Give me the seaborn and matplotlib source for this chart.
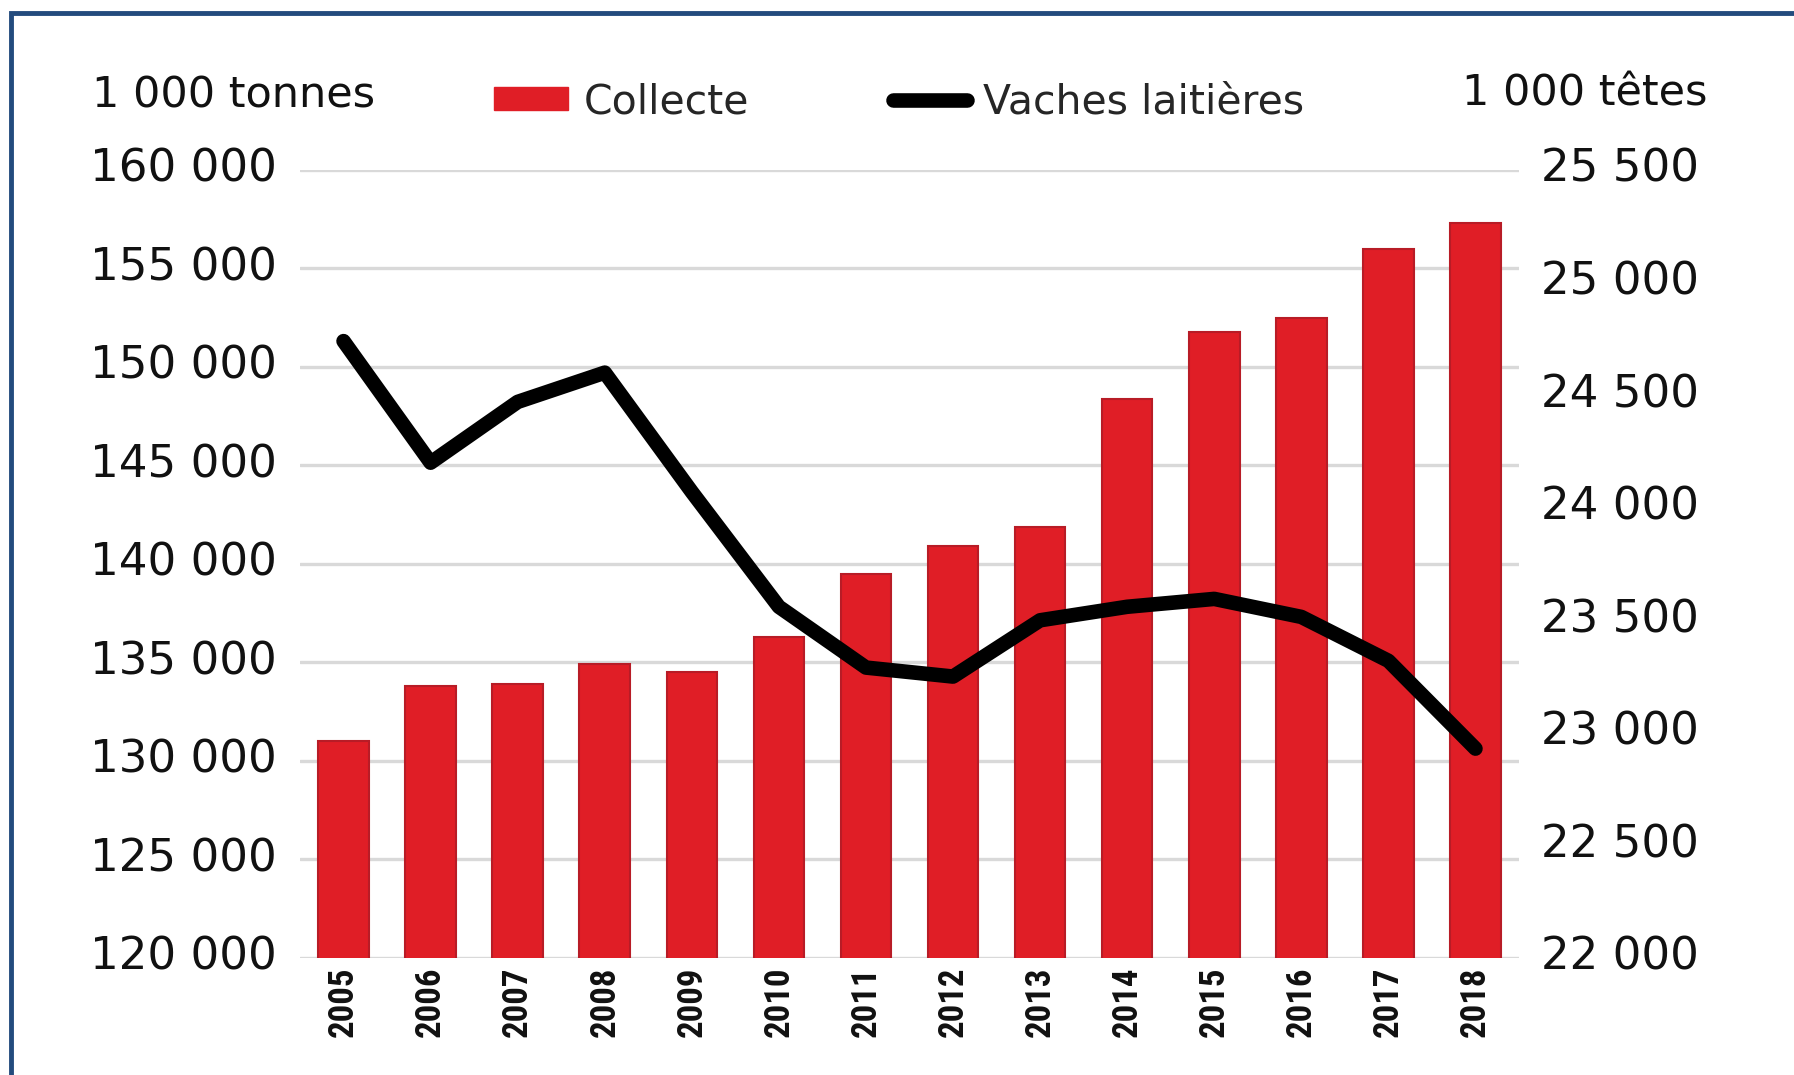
import numpy as np
import pandas as pd
import matplotlib
matplotlib.use("Agg")
import matplotlib.pyplot as plt
import matplotlib.transforms as mtrans
import seaborn as sns
from matplotlib.patches import Patch, Rectangle
from matplotlib.lines import Line2D
from matplotlib import font_manager

years = ["2005", "2006", "2007", "2008", "2009", "2010", "2011",
         "2012", "2013", "2014", "2015", "2016", "2017", "2018"]
collecte = [131000, 133800, 133900, 134900, 134500, 136300, 139500,
            140900, 141900, 148400, 151800, 152500, 156000, 157300]
vaches = [24740, 24200, 24470, 24600, 24070, 23560, 23290,
          23250, 23500, 23560, 23595, 23515, 23320, 22930]
left_ticks = [120000, 125000, 130000, 135000, 140000, 145000, 150000, 155000, 160000]
right_ticks = [22000, 22500, 23000, 23500, 24000, 24500, 25000, 25500]

df = pd.DataFrame({"year": years, "collecte": collecte, "vaches": vaches})

sns.set_theme(style="white")
plt.rcParams["font.family"] = ["DejaVu Sans"]

installed = {f.name for f in font_manager.fontManager.ttflist}
narrow = None
for cand in ["Roboto Condensed", "Liberation Sans Narrow", "Open Sans Condensed",
             "DejaVu Sans Condensed", "Noto Sans Condensed"]:
    if cand in installed:
        narrow = cand
        break

W, H = 1794, 1075
fig = plt.figure(figsize=(W / 100, H / 100), dpi=100)
ax = fig.add_axes([300 / W, 1 - 958 / H, (1519 - 300) / W, (958 - 170) / H])

RED = "#E01E26"
sns.barplot(data=df, x="year", y="collecte", ax=ax, color=RED,
            edgecolor="#B81C26", linewidth=1.5, width=0.58, saturation=1)
ax.set_ylim(120000, 160000)
ax.set_xlim(-0.5, len(years) - 0.5)
ax.set_yticks(left_ticks)
ax.set_yticklabels([f"{v:,}".replace(",", " ") for v in left_ticks],
                   fontsize=32.5, color="#111111")
ax.yaxis.grid(True, color="#D9D9D9", linewidth=2.4)
ax.set_axisbelow(True)
ax.set_xlabel("")
ax.set_ylabel("")
ax.tick_params(axis="y", length=0, pad=17)
ax.tick_params(axis="x", length=0, pad=6)
up = mtrans.ScaledTranslation(0, 5 / 100, fig.dpi_scale_trans)
for lbl in ax.get_yticklabels():
    lbl.set_transform(lbl.get_transform() + up)
for lbl in ax.get_xticklabels():
    lbl.set_rotation(90)
    if narrow:
        lbl.set_family([narrow, "DejaVu Sans"])
        lbl.set_fontsize(25)
        lbl.set_fontweight("bold")
    else:
        lbl.set_fontsize(21)
        lbl.set_fontweight("bold")
    lbl.set_color("#111111")
    lbl.set_va("top")
for s in ax.spines.values():
    s.set_visible(False)

ax2 = ax.twinx()
sns.lineplot(data=df, x="year", y="vaches", ax=ax2, color="black",
             linewidth=10.5, sort=False, solid_capstyle="round",
             solid_joinstyle="round")
ax2.set_ylim(22000, 25500)
ax2.set_xlim(-0.5, len(years) - 0.5)
ax2.set_yticks(right_ticks)
ax2.set_yticklabels([f"{v:,}".replace(",", " ") for v in right_ticks],
                    fontsize=32.5, color="#111111")
ax2.tick_params(axis="y", length=0, pad=15.5)
for lbl in ax2.get_yticklabels():
    lbl.set_transform(lbl.get_transform() + up)
ax2.set_ylabel("")
ax2.set_xlabel("")
ax2.grid(False)
for s in ax2.spines.values():
    s.set_visible(False)

# headers
fig.text(92 / W, 1 - 96 / H, "1 000 tonnes", fontsize=31, va="center",
         ha="left", color="#111111")
fig.text(1707 / W, 1 - 94 / H, "1 000 têtes", fontsize=31, va="center",
         ha="right", color="#111111")

handles = [Patch(facecolor=RED, edgecolor=RED, label="Collecte"),
           Line2D([0], [0], color="black", linewidth=10.5,
                  solid_capstyle="round", label="Vaches laitières")]
fig.legend(handles=handles, loc="center left",
           bbox_to_anchor=(494 / W, 1 - 102 / H), ncol=2, frameon=False,
           fontsize=29.5, handlelength=1.8, handleheight=0.5,
           handletextpad=0.4, columnspacing=3.5, borderpad=0,
           borderaxespad=0)

fig.patches.append(Rectangle((11 / W, -0.05), 1.2, 1 - 13 / H + 0.05,
                             transform=fig.transFigure, fill=False,
                             edgecolor="#234B7D", linewidth=3.5))

fig.savefig("out.png", dpi=100)
